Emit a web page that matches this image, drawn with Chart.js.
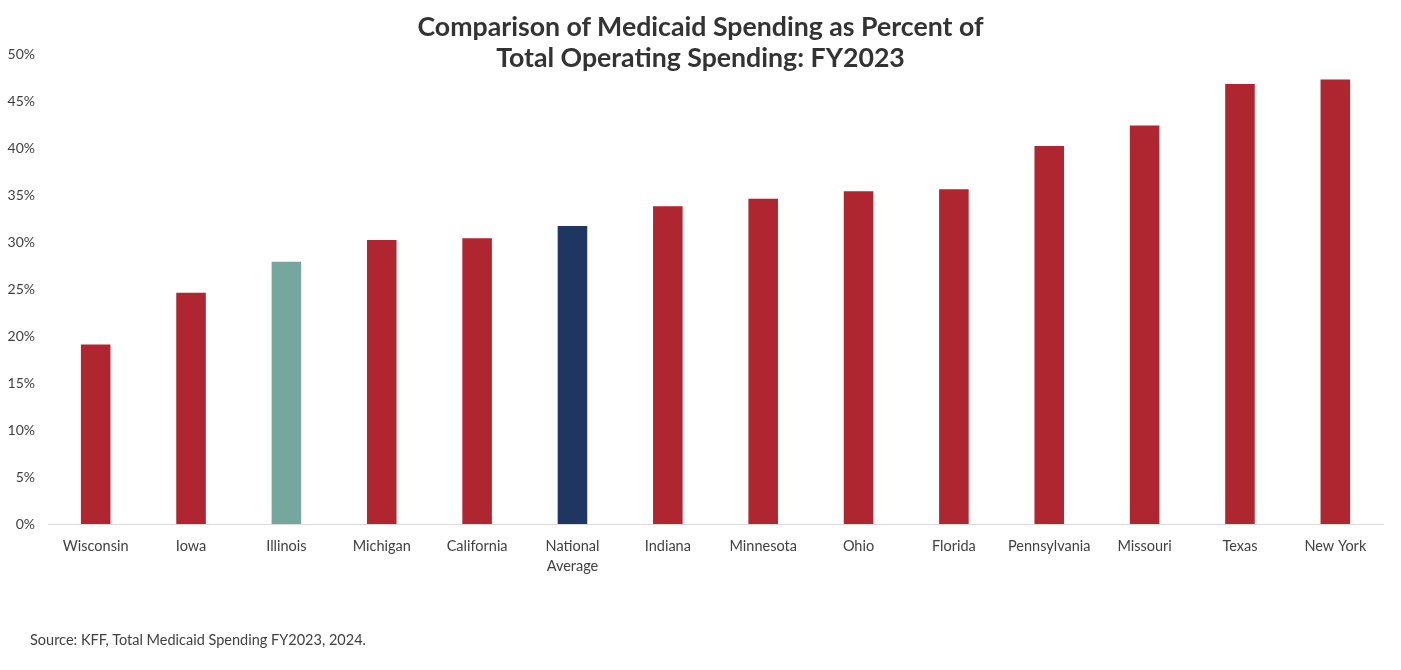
<!DOCTYPE html>
<html>
<head>
<meta charset="utf-8">
<script src="https://cdn.jsdelivr.net/npm/chart.js@4"></script>
<style>
  html, body { margin: 0; padding: 0; background: #fff; }
  #wrap { position: relative; width: 1401px; height: 670px; }
  #title {
    position: absolute; left: 0; top: 11px; width: 1401px; text-align: center;
    font-family: Lato, sans-serif; font-weight: bold; font-size: 26.7px; line-height: 31px; color: #333;
  }
  #source {
    position: absolute; left: 30px; top: 631px;
    font-family: Lato, sans-serif; font-size: 14.5px; color: #404040;
  }
</style>
</head>
<body>
<div id="wrap">
  <canvas id="medicaid-chart" width="1401" height="670"></canvas>
  <div id="title">Comparison of Medicaid Spending as Percent of<br>Total Operating Spending: FY2023</div>
  <div id="source">Source: KFF, Total Medicaid Spending FY2023, 2024.</div>
</div>
<script>
// data ------
var states = ['Wisconsin', 'Iowa', 'Illinois', 'Michigan', 'California', ['National', 'Average'],
  'Indiana', 'Minnesota', 'Ohio', 'Florida', 'Pennsylvania', 'Missouri', 'Texas', 'New York'];
var medicaidShare = [19.1, 24.6, 27.9, 30.2, 30.4, 31.7, 33.8, 34.6, 35.4, 35.6, 40.2, 42.4, 46.8, 47.3];
var yTicks = [0, 5, 10, 15, 20, 25, 30, 35, 40, 45, 50];

var red = '#AF2630', teal = '#75A79F', navy = '#1F3662';
var barColors = states.map(function (s) {
  if (s === 'Illinois') return teal;
  if (Array.isArray(s)) return navy;
  return red;
});

var ctx = document.getElementById('medicaid-chart').getContext('2d');
new Chart(ctx, {
  type: 'bar',
  data: {
    labels: states,
    datasets: [{
      data: medicaidShare,
      backgroundColor: barColors,
      borderWidth: 0,
      barPercentage: 0.31,
      categoryPercentage: 1
    }]
  },
  options: {
    responsive: false,
    animation: false,
    layout: { padding: { top: 54, right: 18, bottom: 0, left: 0 } },
    plugins: { legend: { display: false }, tooltip: { enabled: false } },
    scales: {
      y: {
        min: 0, max: 50,
        afterBuildTicks: function (scale) { scale.ticks = yTicks.map(function (v) { return { value: v }; }); },
        afterFit: function (scale) { scale.width = 48; },
        grid: { display: false, drawTicks: false },
        border: { display: false },
        ticks: {
          padding: 13,
          color: '#404040',
          font: { family: 'Lato', size: 14 },
          callback: function (v) { return v + '%'; }
        }
      },
      x: {
        afterFit: function (scale) { scale.height = 146; },
        grid: { display: false, drawTicks: false },
        border: { display: true, color: '#d9d9d9', width: 1 },
        ticks: {
          padding: 13,
          maxRotation: 0,
          autoSkip: false,
          color: '#404040',
          font: { family: 'Lato', size: 14.5, lineHeight: 1.35 }
        }
      }
    }
  }
});
</script>
</body>
</html>
